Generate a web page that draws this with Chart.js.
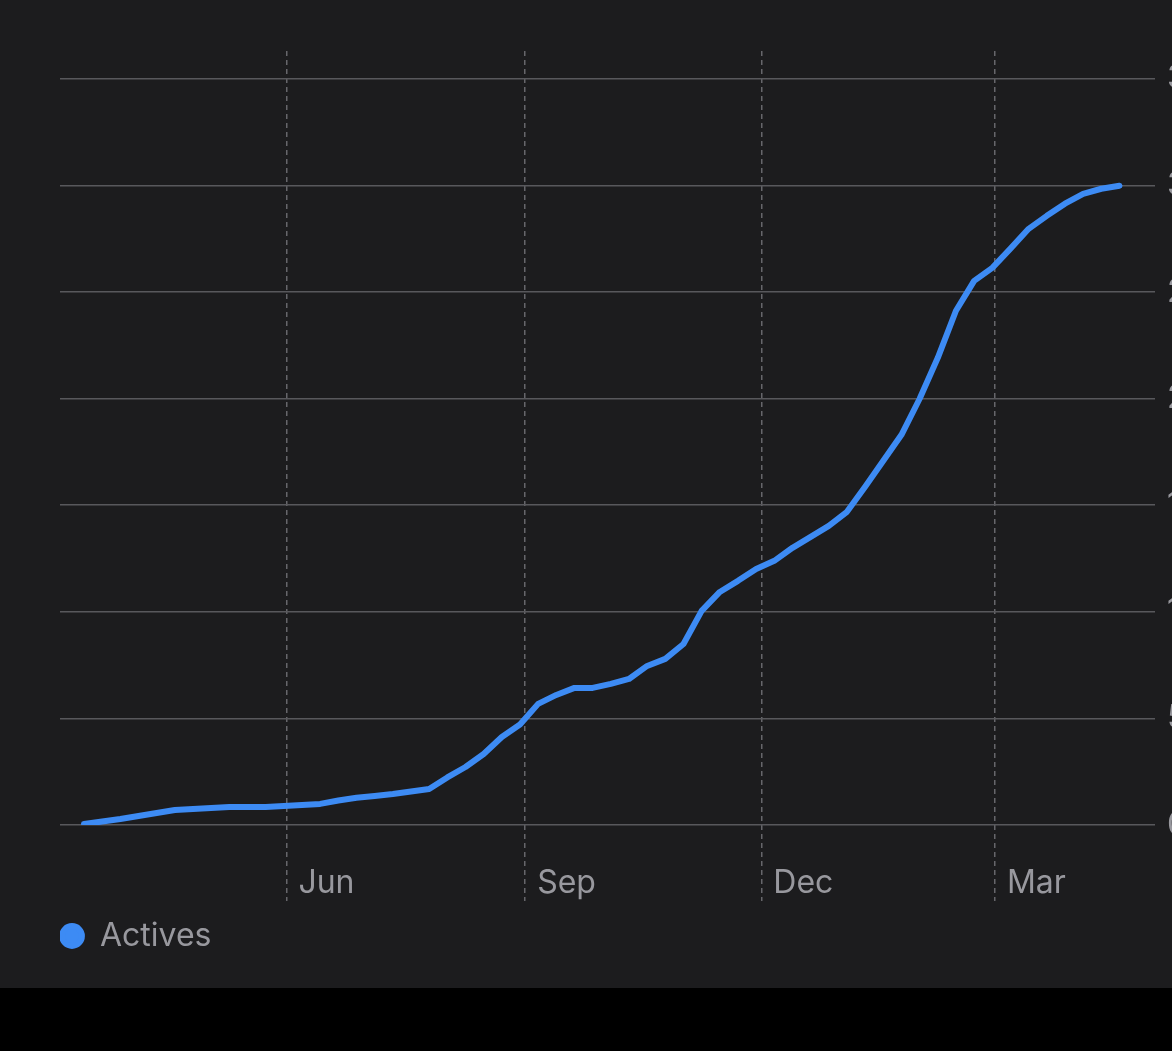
<!DOCTYPE html>
<html>
<head>
<meta charset="utf-8">
<script src="https://cdn.jsdelivr.net/npm/chart.js@4/dist/chart.umd.min.js"></script>
<style>
  html, body { margin: 0; padding: 0; background: #000; overflow: hidden; }
  #wrap { position: absolute; left: 0; top: 0; width: 1240px; height: 988px; background: #1c1c1e; }
</style>
</head>
<body>
<div id="wrap"><canvas id="c"></canvas></div>
<script>
// ---- data (x = days since first week, Mar 15) ----
const weekDays = [0,7,14,21,28,35,42,49,56,63,70,77,84,91,98,105,112,119,126,133,140,147,154,161,168,175,182,189,196,203,210,217,224,231,238,245,252,259,266,273,280,287,294,301,308,315,322,329,336,343,350,357,364,371,378,385,392,399];
const actives = [0.05,0.16,0.28,0.42,0.56,0.70,0.75,0.80,0.84,0.84,0.84,0.89,0.94,0.99,1.15,1.28,1.36,1.45,1.57,1.69,2.23,2.72,3.33,4.13,4.71,5.68,6.10,6.43,6.43,6.62,6.85,7.46,7.79,8.49,10.04,10.93,11.45,12.01,12.39,13.00,13.51,14.03,14.69,15.86,17.08,18.30,19.99,21.91,24.12,25.52,26.13,27.03,27.96,28.57,29.14,29.60,29.84,29.98];
const monthTickDays = [78, 170, 261, 351];
const monthTickLabels = ['Jun', 'Sep', 'Dec', 'Mar'];
const yTickValues = [0, 5, 10, 15, 20, 25, 30, 35];
const yTickLabels = ['0', '5K', '10K', '15K', '20K', '25K', '30K', '35K'];
const seriesName = 'Actives';

const BLUE = '#3d8bf4';
const TEXT = '#98989e';
const FONT = 'Inter, "Noto Sans", sans-serif';

const points = weekDays.map((d, i) => ({ x: d, y: actives[i] }));

new Chart(document.getElementById('c'), {
  type: 'line',
  data: {
    datasets: [{
      label: seriesName,
      data: points,
      borderColor: BLUE,
      backgroundColor: BLUE,
      borderWidth: 6,
      pointRadius: 0,
      tension: 0,
      borderCapStyle: 'round',
      borderJoinStyle: 'round'
    }]
  },
  options: {
    responsive: true,
    maintainAspectRatio: false,
    animation: false,
    layout: { padding: { top: 51, left: 60, right: 0, bottom: 26 } },
    plugins: {
      tooltip: { enabled: false },
      legend: {
        position: 'bottom',
        align: 'start',
        labels: {
          usePointStyle: true,
          pointStyle: 'circle',
          boxWidth: 24,
          boxHeight: 14,
          padding: 0,
          color: TEXT,
          font: { family: FONT, size: 32 }
        }
      }
    },
    scales: {
      x: {
        type: 'linear',
        min: -9.25,
        max: 412.7,
        afterBuildTicks: (s) => { s.ticks = monthTickDays.map(v => ({ value: v })); },
        afterFit: (s) => { s.height = 95; },
        grid: {
          color: '#66666b',
          lineWidth: 1.5,
          drawTicks: true,
          tickLength: 76,
          tickColor: '#66666b',
          tickWidth: 1.5,
          tickBorderDash: [5, 4],
          borderDash: [5, 4]
        },
        border: { display: false, dash: [5, 4] },
        ticks: {
          align: 'start',
          labelOffset: 12,
          padding: -37,
          color: TEXT,
          font: { family: FONT, size: 32 },
          maxRotation: 0,
          autoSkip: false,
          callback: (v) => { const i = monthTickDays.indexOf(v); return i >= 0 ? monthTickLabels[i] : ''; }
        }
      },
      y: {
        position: 'right',
        min: 0,
        max: 36.3,
        afterBuildTicks: (s) => { s.ticks = yTickValues.map(v => ({ value: v })); },
        afterFit: (s) => { s.width = 85; },
        grid: { color: '#58585c', lineWidth: 1.5, drawTicks: false },
        border: { display: false },
        ticks: {
          padding: 12,
          color: TEXT,
          font: { family: FONT, size: 32 },
          callback: (v) => { const i = yTickValues.indexOf(v); return i >= 0 ? yTickLabels[i] : ''; }
        }
      }
    }
  }
});
</script>
</body>
</html>
